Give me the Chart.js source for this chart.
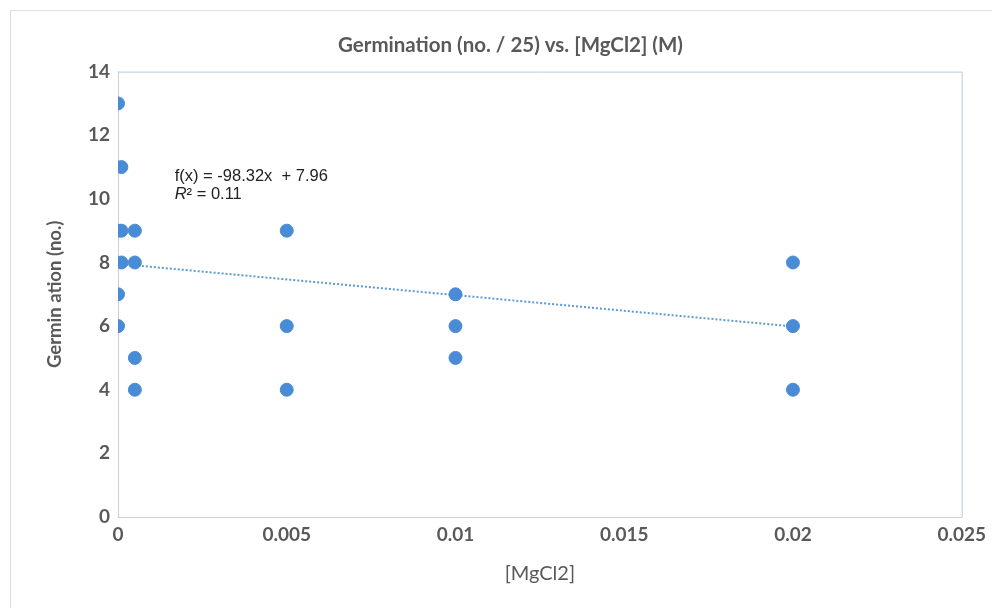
<!DOCTYPE html>
<html>
<head>
<meta charset="utf-8">
<script src="https://cdn.jsdelivr.net/npm/chart.js@4"></script>
<style>
  html, body { margin: 0; padding: 0; background: #fff; }
  #frame { position: absolute; left: 10px; top: 10px; width: 1000px; height: 620px; border-left: 1px solid #dedede; border-top: 1px solid #dedede; }
  #wrap { position: absolute; left: 0; top: 0; width: 992px; height: 608px; }
</style>
</head>
<body>
<div id="frame"></div>
<div id="wrap"><canvas id="chart"></canvas></div>
<script>
// [MgCl2] (M) and germination count for each dish
const concentration = [0, 0, 0, 0, 0.0001, 0.0001, 0.0001, 0.0005, 0.0005, 0.0005, 0.0005, 0.005, 0.005, 0.005, 0.01, 0.01, 0.01, 0.02, 0.02, 0.02];
const germination   = [13, 9, 7, 6, 11, 9, 8, 9, 8, 5, 4, 9, 6, 4, 7, 6, 5, 8, 6, 4];

// linear trendline ends
const trendX = [0, 0.02];
const trendY = [7.96, 5.99];
const trendLabel = ['f(x) = -98.32x  + 7.96', 'R² = 0.11'];
const trendLabelAt = { x: 0.00168, y: 10.7 };

const xTicks = { min: 0, max: 0.025, step: 0.005 };
const yTicks = { min: 0, max: 14, step: 2 };

const grey = '#595959';
const dotBlue = '#4a8bd6';
const font = 'Lato, "Open Sans", sans-serif';

const points = concentration.map((c, i) => ({ x: c, y: germination[i] }));
const trend = trendX.map((c, i) => ({ x: c, y: trendY[i] }));

const frameAndLabel = {
  id: 'frameAndLabel',
  beforeDatasetsDraw(chart) {
    const { ctx, chartArea: a } = chart;
    ctx.save();
    ctx.strokeStyle = '#b9cfdf';
    ctx.lineWidth = 1;
    ctx.beginPath();
    ctx.moveTo(a.left, a.top + 0.5); ctx.lineTo(a.right + 0.5, a.top + 0.5); ctx.lineTo(a.right + 0.5, a.bottom);
    ctx.stroke();
    ctx.restore();
  },
  afterDatasetsDraw(chart) {
    const { ctx, scales } = chart;
    const px = scales.x.getPixelForValue(trendLabelAt.x);
    const py = scales.y.getPixelForValue(trendLabelAt.y);
    ctx.save();
    ctx.fillStyle = '#222';
    ctx.textBaseline = 'middle';
    ctx.font = '16.5px "Liberation Sans", Arial, sans-serif';
    ctx.fillText(trendLabel[0], px, py);
    // R² with italic R
    ctx.font = 'italic 16.5px "Liberation Sans", Arial, sans-serif';
    ctx.fillText('R', px, py + 18);
    const w = ctx.measureText('R').width;
    ctx.font = '16.5px "Liberation Sans", Arial, sans-serif';
    ctx.fillText(trendLabel[1].slice(1), px + w, py + 18);
    ctx.restore();
  }
};

new Chart(document.getElementById('chart'), {
  type: 'scatter',
  data: {
    datasets: [
      {
        label: 'Germination',
        data: points,
        backgroundColor: dotBlue,
        borderColor: dotBlue,
        pointRadius: 6.5,
        pointHoverRadius: 6.5,
        order: 1
      },
      {
        type: 'line',
        label: 'Trend',
        data: trend,
        borderColor: '#5b9bd5',
        borderWidth: 2,
        borderDash: [2, 2],
        pointRadius: 0,
        fill: false,
        order: 2
      }
    ]
  },
  options: {
    responsive: true,
    maintainAspectRatio: false,
    animation: false,
    layout: { padding: { top: 0, right: 29, bottom: 0, left: 58 } },
    plugins: {
      legend: { display: false },
      tooltip: { enabled: false },
      title: {
        display: true,
        text: 'Germination (no. / 25) vs. [MgCl2] (M)',
        color: grey,
        font: { family: font, size: 20.5, weight: 'bold' },
        padding: { top: 33, bottom: 14 }
      }
    },
    scales: {
      x: {
        type: 'linear',
        min: xTicks.min, max: xTicks.max,
        afterFit(s) { s.height = 91; },
        grid: { display: false, drawTicks: false },
        border: { display: true, color: '#cfcfcf', width: 1 },
        ticks: {
          stepSize: xTicks.step,
          padding: 6,
          color: grey,
          font: { family: font, size: 19, weight: 'bold' },
          callback: v => String(+v.toFixed(3))
        },
        title: {
          display: true,
          text: '[MgCl2]',
          color: grey,
          font: { family: font, size: 20, weight: 'normal' },
          padding: { top: 0, bottom: 22 }
        }
      },
      y: {
        min: yTicks.min, max: yTicks.max,
        afterFit(s) { s.width = 60; },
        grid: { display: false, drawTicks: false },
        border: { display: true, color: '#cfcfcf', width: 1 },
        ticks: {
          stepSize: yTicks.step,
          padding: 8,
          color: grey,
          font: { family: font, size: 19, weight: 'bold' }
        },
        title: {
          display: true,
          text: 'Germin ation (no.)',
          color: grey,
          font: { family: font, size: 18.5, weight: 'bold' },
          padding: { top: -14, bottom: 0 }
        }
      }
    }
  },
  plugins: [frameAndLabel]
});
</script>
</body>
</html>
